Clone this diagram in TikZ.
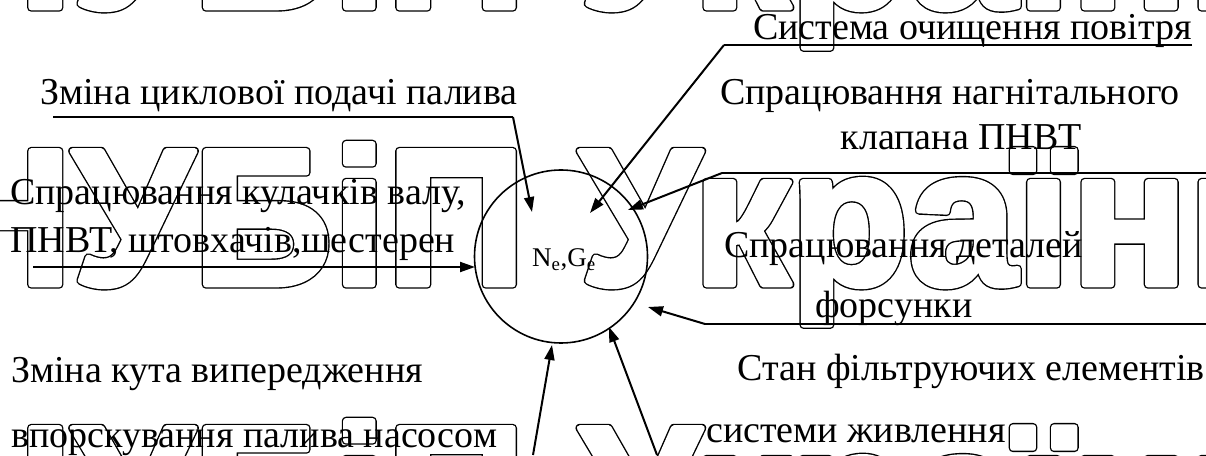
\documentclass[tikz,border=0pt]{standalone}
\usepackage{fontspec}
\setmainfont{Liberation Serif}
\newfontfamily\wmfont{Liberation Sans}
\usetikzlibrary{arrows.meta}
% large lettering drawn as rounded outlines: a wide black fill+stroke (render mode 2)
% with a slightly narrower white fill+stroke on top leaves a thin rounded contour
\newcommand\wmtext{\wmfont\bfseries\fontsize{194}{194}\selectfont НУБіП України}
\newcommand\wmstroke{\rlap{\special{pdf:literal direct 2 Tr 8.4 w 1 j}\wmtext}{\color{white}\special{pdf:literal direct 2 Tr 5.6 w 1 j}\wmtext}\special{pdf:literal direct 0 Tr}}
\begin{document}
\begin{tikzpicture}[x=1pt,y=1pt,
  lbl/.style={inner sep=0pt, font=\fontsize{38}{44}\selectfont},
  wm/.style={inner sep=0pt, anchor=base west},
  link/.style={line width=2pt},
  arr/.style={link, -{Triangle[length=15pt,width=10pt]}}]
\useasboundingbox (0,0) rectangle (1206,455);
\fill[white] (0,0) rectangle (1206,455);
% outlined lettering in the background
\begin{scope}
\clip (0,0) rectangle (1206,455);
\node[wm] (wmtop) at (-68,447.5) {\wmstroke};
\node[wm] (wmmid) at (-68,170.5) {\wmstroke};
\node[wm] (wmbot) at (-68,-106.5) {\wmstroke};
\end{scope}
% central circle
\draw[line width=1.6pt] (561,198.5) circle[radius=86.5];
\node[inner sep=0pt, anchor=base west, font=\fontsize{27}{30}\selectfont] (ng) at (532,188) {N\textsubscript{e},G\textsubscript{e}};
% labels
\node[lbl, anchor=base east] (t1) at (1192,415) {Система очищення повітря};
\node[lbl, anchor=base west] (t2) at (40,350) {Зміна циклової подачі палива};
\node[lbl, anchor=base] (t3a) at (950,350) {Спрацювання нагнітального};
\node[lbl, anchor=base] (t3b) at (961,305) {клапана ПНВТ};
\node[lbl, anchor=base west] (t4a) at (10,250) {Спрацювання кулачків валу,};
\node[lbl, anchor=base west] (t4b) at (10,202) {ПНВТ, штовхачів,шестерен};
\node[lbl, anchor=base west] (t5a) at (724,197) {Спрацювання деталей};
\node[lbl, anchor=base west] (t5b) at (815,137) {форсунки};
\node[lbl, anchor=base east] (t6a) at (1205,75) {Стан фільтруючих елементів};
\node[lbl, anchor=base west] (t6b) at (706,13) {системи живлення};
\node[lbl, anchor=base west] (t7a) at (11,73) {Зміна кута випередження};
\node[lbl, anchor=base west] (t7b) at (11,8) {впорскування палива насосом};
% line ends and arrow targets
\coordinate (u1a) at (724,410); \coordinate (u1b) at (1192,410); \coordinate (h1) at (590,242);
\coordinate (u2a) at (53,338);  \coordinate (u2b) at (513,338);  \coordinate (h2) at (532,243);
\coordinate (u3a) at (722,282); \coordinate (u3b) at (1206,282); \coordinate (h3) at (628,245);
\coordinate (u4a) at (33,188);  \coordinate (h4) at (475,188);
\coordinate (u5a) at (705,131); \coordinate (u5b) at (1206,131); \coordinate (h5) at (648,148);
\coordinate (u6a) at (533,0);   \coordinate (h6) at (552,110);
\coordinate (u7a) at (657,0);   \coordinate (h7) at (609,128);
% connectors
\draw[link] (u1b) -- (u1a);
\draw[arr] (u1a) -- (h1);
\draw[link] (u2a) -- (u2b);
\draw[arr] (u2b) -- (h2);
\draw[link] (u3b) -- (u3a);
\draw[arr] (u3a) -- (h3);
\draw[arr] (u4a) -- (h4);
\draw[link] (u5b) -- (u5a);
\draw[arr] (u5a) -- (h5);
\draw[arr] (u6a) -- (h6);
\draw[arr] (u7a) -- (h7);
\end{tikzpicture}
\end{document}
